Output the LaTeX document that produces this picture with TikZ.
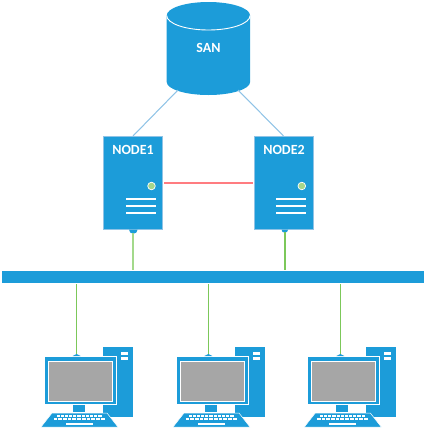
\documentclass[tikz,border=0pt]{standalone}
\usepackage{fontspec}
\setmainfont{Carlito}
\definecolor{bl}{HTML}{1C9CD9}
\definecolor{edgeb}{HTML}{8FC3E6}
\definecolor{grn}{HTML}{7CC85A}
\definecolor{paleg}{HTML}{A5D68A}
\definecolor{rd}{HTML}{FF7C80}
\tikzset{
 x=1pt,y=-1pt,
 server/.style={draw=edgeb,line width=.7pt,fill=bl,minimum width=59pt,minimum height=93pt,inner sep=0pt,outer sep=0pt},
 lbl/.style={text=white,font=\bfseries\fontsize{14}{16}\selectfont,inner sep=0pt},
 sanlink/.style={draw=edgeb,line width=1.05pt},
 netlink/.style={draw=grn,line width=1.2pt},
 palelink/.style={draw=grn!70!white,line width=1.5pt},
 hblink/.style={draw=rd,line width=1.3pt},
 whiteline/.style={draw=white,line width=1.1pt},
 computer/.pic={
  \fill[bl] (103,347) rectangle (133,417);
  \fill[white] (121,352) rectangle (128,355.2);
  \fill[white] (121,357) rectangle (128,359.5);
  \fill[bl,draw=white,line width=.7pt] (44,356) rectangle (116,404);
  \fill[gray!70,draw=white,line width=.9pt] (48,361) rectangle (112,401);
  \fill[bl] (73,404.5) rectangle (85,412);
  \fill[bl,draw=white,line width=.5pt] (52,413) -- (107,413) -- (118,427) -- (41,427) -- cycle;
  \foreach \r/\a/\b in {415/56/102,418/53/105}{
    \foreach \i in {0,...,10}{
      \fill[white] ({\a+(\b-\a)*\i/11+.5},\r) rectangle ({\a+(\b-\a)*(\i+1)/11-.5},\r+2);
    }}
  \fill[white] (66,422.5) rectangle (93,424.5);
 },
}
\begin{document}
\begin{tikzpicture}
\useasboundingbox (0,0) rectangle (426,429);
% cylinder
\path[fill=bl] (166.7,15.5) arc[start angle=180,end angle=360,x radius=41.7,y radius=13.5]
 -- (250.1,82) arc[start angle=0,end angle=180,x radius=41.7,y radius=13] -- cycle;
\draw[white,line width=.9pt] (166.7,15.5) arc[start angle=180,end angle=0,x radius=41.7,y radius=14.5];
\node[lbl] (san) at (208.5,48) {SAN};
\coordinate (sanL) at (178,90);
\coordinate (sanR) at (238,90);
% servers
\node[server] (n1) at (133,182.5) {};
\node[server] (n2) at (283.5,182.5) {};
\node[lbl] (l1) at (133,150) {NODE1};
\node[lbl] (l2) at (284,150) {NODE2};
\foreach \n/\dx in {n1/0,n2/150.3}{
  \fill[paleg,draw=white,line width=.7pt] (151.5+\dx,186) circle (3.8);
  \foreach \yy in {199,206,213} \draw[whiteline] (126+\dx,\yy) -- (155.5+\dx,\yy);
}
\fill[bl] (129,229.5) arc[start angle=180,end angle=0,radius=4.3] -- cycle;
\fill[bl] (281.5,229.5) arc[start angle=180,end angle=0,radius=3.3] -- cycle;
% bar
\node[fill=bl,minimum width=422pt,minimum height=12pt,inner sep=0pt,outer sep=0pt] (bar) at (213,277) {};
% links
\draw[sanlink] (sanL) -- (n1.north);
\draw[sanlink] (sanR) -- (n2.north);
\coordinate (hL) at (164,183);
\coordinate (hR) at (253,183);
\draw[hblink] (hL) -- (hR);
% computers
\foreach \dx/\nm/\lx in {0/a/76.7,132/b/208.3,263.3/c/340.3}{
  \pic at (\dx,0) {computer};
  \coordinate (bot\nm) at (\lx,284);
  \coordinate (top\nm) at (\lx,355);
  \draw[netlink] (bot\nm) -- (top\nm);
  \fill[bl] (\lx-4,356) -- (\lx+4,356) -- (\lx,354) -- cycle;
}
% server to bar
\coordinate (t1) at (133,233);
\coordinate (t2) at (285,232);
\coordinate (b1) at (133,270);
\coordinate (b2) at (285,270);
\draw[palelink] (t1) -- (b1);
\draw[netlink] (t2) -- (b2);
\end{tikzpicture}
\end{document}
